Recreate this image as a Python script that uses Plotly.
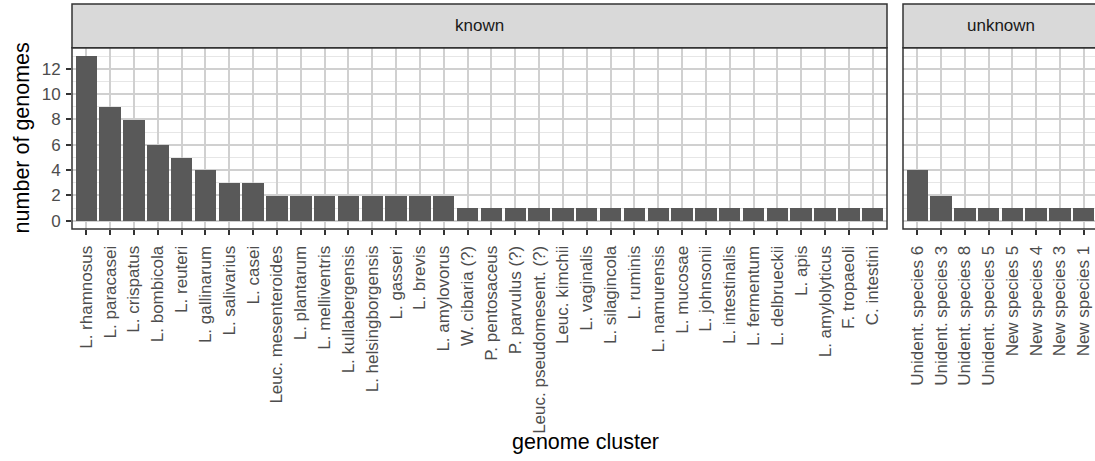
import plotly.graph_objects as go

# Genome clusters with an assigned species
known_clusters = [
    "L. rhamnosus", "L. paracasei", "L. crispatus", "L. bombicola", "L. reuteri",
    "L. gallinarum", "L. salivarius", "L. casei", "Leuc. mesenteroides", "L. plantarum",
    "L. melliventris", "L. kullabergensis", "L. helsingborgensis", "L. gasseri", "L. brevis",
    "L. amylovorus", "W. cibaria (?)", "P. pentosaceus", "P. parvulus (?)",
    "Leuc. pseudomesent. (?)", "Leuc. kimchii", "L. vaginalis", "L. silagincola",
    "L. ruminis", "L. namurensis", "L. mucosae", "L. johnsonii", "L. intestinalis",
    "L. fermentum", "L. delbrueckii", "L. apis", "L. amylolyticus", "F. tropaeoli",
    "C. intestini",
]
known_counts = [13, 9, 8, 6, 5, 4, 3, 3, 2, 2, 2, 2, 2, 2, 2, 2,
                1, 1, 1, 1, 1, 1, 1, 1, 1, 1, 1, 1, 1, 1, 1, 1, 1, 1]

# Clusters without a species name
unknown_clusters = [
    "Unident. species 6", "Unident. species 3", "Unident. species 8", "Unident. species 5",
    "New species 5", "New species 4", "New species 3", "New species 1",
]
unknown_counts = [4, 2, 1, 1, 1, 1, 1, 1]

y_ticks = [0, 2, 4, 6, 8, 10, 12]

W, H = 1095, 461
FONT = "Liberation Sans, Arial, Helvetica, sans-serif"
BAR = "#595959"
DARK = "#333333"
TICKTXT = "#4D4D4D"
GRID = "#D0D0D0"
GRID_MINOR = "#E6E6E6"
TICK_SIZE = 17
TITLE_SIZE = 21.5


def px(x):
    return x / W


def py(y):
    return 1 - y / H


panel_top, panel_bot = 48, 230
strip_top = 4
known_l, known_r = 72, 887
unk_l, unk_r = 903, 1098
unit = (known_r - known_l) / (len(known_clusters) + 0.2)

fig = go.Figure()
fig.add_trace(go.Bar(x=known_clusters, y=known_counts, xaxis="x", yaxis="y",
                     marker=dict(color=BAR, line=dict(width=0)), width=0.9,
                     showlegend=False))
fig.add_trace(go.Bar(x=unknown_clusters, y=unknown_counts, xaxis="x2", yaxis="y2",
                     marker=dict(color=BAR, line=dict(width=0)), width=0.9,
                     showlegend=False))

xcommon = dict(
    type="category", showgrid=True, gridcolor=GRID, gridwidth=2,
    ticks="outside", ticklen=5, tickwidth=1.6, tickcolor=DARK,
    tickangle=-90, tickfont=dict(family=FONT, size=TICK_SIZE, color=TICKTXT),
    showline=False, zeroline=False, ticklabelstandoff=4,
    fixedrange=True,
)
ycommon = dict(
    range=[-0.65, 13.65], tickvals=y_ticks, showgrid=True, gridcolor=GRID,
    gridwidth=2, zeroline=False, showline=False,
    minor=dict(dtick=1, tick0=0, showgrid=True, gridcolor=GRID_MINOR, gridwidth=1),
    domain=[py(panel_bot), py(panel_top)], fixedrange=True,
)

unk_end = 7.6 - (unk_r - W) / unit

fig.update_layout(
    width=W, height=H, margin=dict(l=0, r=0, t=0, b=0),
    paper_bgcolor="white", plot_bgcolor="white",
    bargap=0, showlegend=False,
    xaxis=dict(xcommon, domain=[px(known_l), px(known_r)], anchor="y",
               range=[-0.6, len(known_clusters) - 0.4],
               categoryorder="array", categoryarray=known_clusters),
    xaxis2=dict(xcommon, domain=[px(unk_l), 1.0], anchor="y2",
                range=[-0.6, unk_end],
                categoryorder="array", categoryarray=unknown_clusters),
    yaxis=dict(ycommon, anchor="x", ticks="outside", ticklen=5, tickwidth=1.6,
               tickcolor=DARK, ticklabelstandoff=2,
               tickfont=dict(family=FONT, size=TICK_SIZE, color=TICKTXT)),
    yaxis2=dict(ycommon, anchor="x2", showticklabels=False, ticks=""),
)

shapes = []
for left, right in [(known_l, known_r), (unk_l, unk_r)]:
    # strip header
    shapes.append(dict(type="rect", xref="paper", yref="paper",
                       x0=px(left), x1=px(right), y0=py(panel_top), y1=py(strip_top),
                       fillcolor="#D9D9D9", line=dict(color=DARK, width=1.5),
                       layer="above"))
    # panel border
    shapes.append(dict(type="rect", xref="paper", yref="paper",
                       x0=px(left), x1=px(right), y0=py(panel_bot), y1=py(panel_top),
                       fillcolor="rgba(0,0,0,0)", line=dict(color=DARK, width=1.5),
                       layer="above"))
fig.update_layout(shapes=shapes)

strip_mid = py((strip_top + panel_top) / 2)
annotations = [
    dict(text="known", x=px((known_l + known_r) / 2), y=strip_mid),
    dict(text="unknown", x=px((unk_l + unk_r) / 2), y=strip_mid),
]
for a in annotations:
    a.update(xref="paper", yref="paper", showarrow=False, xanchor="center",
             yanchor="middle", font=dict(family=FONT, size=TICK_SIZE, color="#1A1A1A"))
annotations += [
    dict(text="number of genomes", x=px(22), y=py((panel_top + panel_bot) / 2),
         xref="paper", yref="paper", showarrow=False, textangle=-90,
         xanchor="center", yanchor="middle",
         font=dict(family=FONT, size=TITLE_SIZE, color="black")),
    dict(text="genome cluster", x=px((known_l + unk_r) / 2), y=py(444),
         xref="paper", yref="paper", showarrow=False,
         xanchor="center", yanchor="middle",
         font=dict(family=FONT, size=TITLE_SIZE, color="black")),
]
fig.update_layout(annotations=annotations)

fig.write_html("out.html")
